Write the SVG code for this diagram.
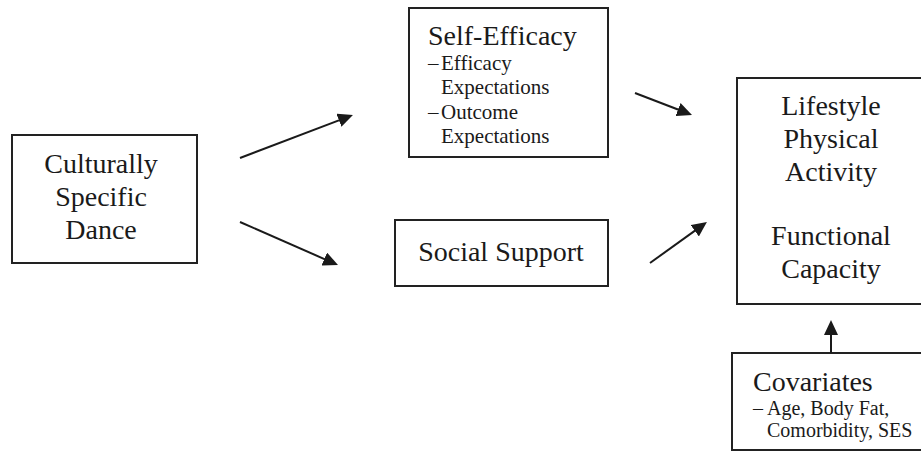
<svg xmlns="http://www.w3.org/2000/svg" width="921" height="462" viewBox="0 0 921 462">
  <style>
    .box { fill: #ffffff; stroke: #222222; stroke-width: 2; }
    .t { font-family: "Liberation Serif", "Times New Roman", serif; fill: #1a1a1a; }
    .big { font-size: 28px; }
    .mid { font-size: 21px; }
    .sm { font-size: 20px; }
    .c { text-anchor: middle; }
    .edge { stroke: #1a1a1a; stroke-width: 2; fill: none; marker-end: url(#arrow); }
  </style>
  <defs>
    <marker id="arrow" markerUnits="userSpaceOnUse" markerWidth="15" markerHeight="14" refX="2" refY="7" orient="auto">
      <path d="M0,0 L15,7 L0,14 z" fill="#1a1a1a"/>
    </marker>
  </defs>
  <rect width="921" height="462" fill="#ffffff"/>

  <g id="dance">
    <rect class="box" x="12" y="135" width="185" height="128"/>
    <text class="t big c" x="101" y="173">Culturally</text>
    <text class="t big c" x="101" y="206">Specific</text>
    <text class="t big c" x="101" y="239">Dance</text>
  </g>

  <g id="self-efficacy">
    <rect class="box" x="409" y="8" width="199" height="149"/>
    <text class="t big" x="428" y="45">Self-Efficacy</text>
    <text class="t mid" x="428" y="70">–<tspan x="441">Efficacy</tspan></text>
    <text class="t mid" x="441" y="94">Expectations</text>
    <text class="t mid" x="428" y="119">–<tspan x="441">Outcome</tspan></text>
    <text class="t mid" x="441" y="143">Expectations</text>
  </g>

  <g id="social-support">
    <rect class="box" x="395" y="220" width="213" height="66"/>
    <text class="t big c" x="501" y="261">Social Support</text>
  </g>

  <g id="outcomes">
    <rect class="box" x="737" y="78" width="200" height="226"/>
    <text class="t big c" x="831" y="115">Lifestyle</text>
    <text class="t big c" x="831" y="148">Physical</text>
    <text class="t big c" x="831" y="181">Activity</text>
    <text class="t big c" x="831" y="245">Functional</text>
    <text class="t big c" x="831" y="278">Capacity</text>
  </g>

  <g id="covariates">
    <rect class="box" x="732" y="353" width="205" height="97"/>
    <text class="t big" x="753" y="391">Covariates</text>
    <text class="t sm" x="753" y="415">–<tspan x="767">Age, Body Fat,</tspan></text>
    <text class="t sm" x="767" y="437">Comorbidity, SES</text>
  </g>

  <g id="connectors">
    <line class="edge" x1="240" y1="158" x2="340.8" y2="119.6"/>
    <line class="edge" x1="240" y1="222" x2="326.1" y2="259.8"/>
    <line class="edge" x1="635" y1="93" x2="679.9" y2="110.3"/>
    <line class="edge" x1="650" y1="263" x2="696.4" y2="229.6"/>
    <line class="edge" x1="831" y1="353" x2="831" y2="333"/>
  </g>
</svg>
